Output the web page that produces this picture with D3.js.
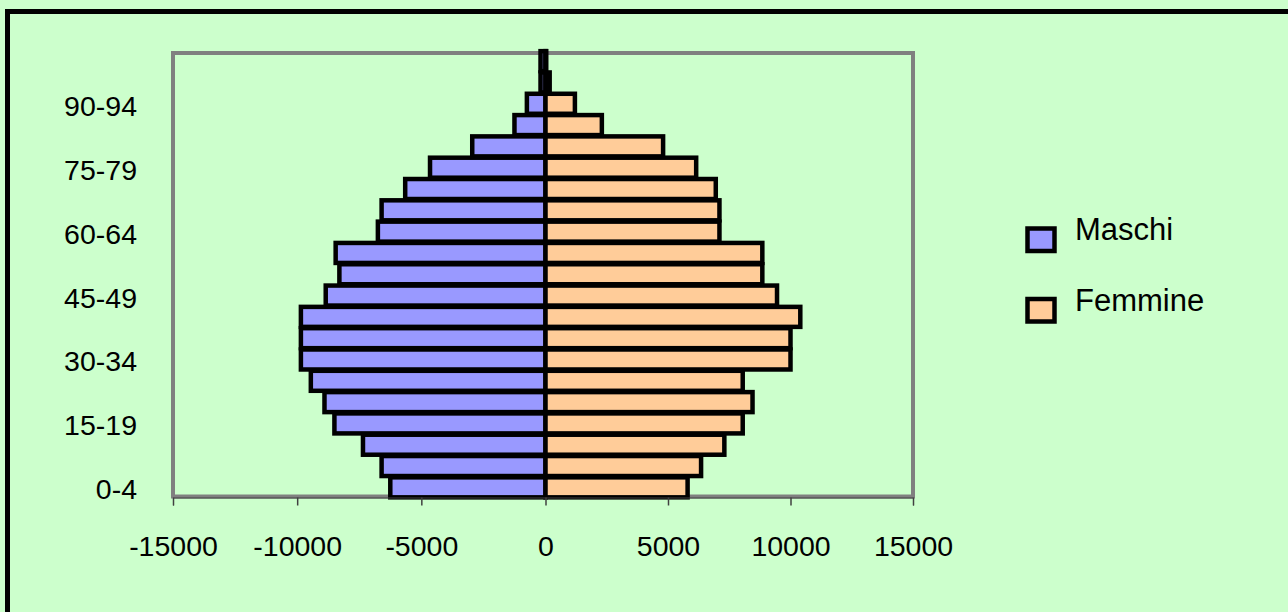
<!DOCTYPE html>
<html>
<head>
<meta charset="utf-8">
<script src="https://cdn.jsdelivr.net/npm/d3@7"></script>
<style>
  html, body { margin: 0; padding: 0; background: #CCFFCC; overflow: hidden; }
  svg { display: block; }
  text { font-family: Arial, "Liberation Sans", sans-serif; fill: #000; }
</style>
</head>
<body>
<svg id="chart" width="1288" height="612"></svg>
<script>
const categories = ["0-4","5-9","10-14","15-19","20-24","25-29","30-34","35-39","40-44","45-49",
                    "50-54","55-59","60-64","65-69","70-74","75-79","80-84","85-89","90-94","95-99","100+"];
const maschi  = [6250,6600,7350,8500,8900,9450,9850,9850,9850,8850,8300,8450,6750,6600,5650,4650,2950,1250,750,200,200];
const femmine = [5800,6350,7300,8050,8450,8050,10000,10000,10400,9450,8850,8850,7100,7100,6950,6150,4800,2300,1200,170,30];
const xTicks = [-15000,-10000,-5000,0,5000,10000,15000];
const yTickLabels = ["0-4","15-19","30-34","45-49","60-64","75-79","90-94"];
const seriesNames = ["Maschi","Femmine"];
const seriesColors = ["#9999FF","#FFCC99"];

const svg = d3.select("#chart");

// outer border
svg.append("rect").attr("x",7.5).attr("y",11.5).attr("width",1300).attr("height",620)
  .attr("fill","#CCFFCC").attr("stroke","#000").attr("stroke-width",5);

const plot = {left:173, right:913, top:53, bottom:496.5};

const x = d3.scaleLinear().domain([-15000,0,15000]).range([plot.left,545.5,plot.right]);
const y = d3.scaleBand().domain(categories).range([498, 50.5]).paddingInner(0);

// plot frame
svg.append("rect").attr("x",plot.left).attr("y",plot.top)
  .attr("width",plot.right-plot.left).attr("height",plot.bottom-plot.top)
  .attr("fill","none").attr("stroke","#808080").attr("stroke-width",4);

const bh = 20;
const rows = categories.map((c,i)=>({c, m:maschi[i], f:femmine[i]}));

const g = svg.append("g");
rows.forEach(d=>{
  const cy = y(d.c) + y.bandwidth()/2;
  g.append("rect").attr("x",x(-d.m)).attr("y",cy-bh/2)
    .attr("width",x(0)-x(-d.m)).attr("height",bh)
    .attr("fill",seriesColors[0]).attr("stroke","#000").attr("stroke-width",4.5);
  g.append("rect").attr("x",x(0)).attr("y",cy-bh/2)
    .attr("width",x(d.f)-x(0)).attr("height",bh)
    .attr("fill",seriesColors[1]).attr("stroke","#000").attr("stroke-width",4.5);
});

// x axis
const xAxis = d3.axisBottom(x).tickValues(xTicks).tickSize(8).tickPadding(30).tickFormat(d=>String(d));
const ax = svg.append("g").attr("transform",`translate(0,${plot.bottom+1})`).call(xAxis);
ax.select(".domain").attr("stroke","#404040").attr("stroke-width",1);
ax.selectAll(".tick line").attr("stroke","#404040").attr("stroke-width",1.5);
ax.selectAll(".tick text").style("font-size","28.5px").attr("fill","#000")
  .attr("font-family","Arial, 'Liberation Sans', sans-serif");

// y labels
const ay = d3.axisLeft(y).tickValues(yTickLabels).tickSize(0).tickPadding(36);
const ayg = svg.append("g").attr("transform",`translate(${plot.left},0)`).call(ay);
ayg.select(".domain").remove();
ayg.selectAll(".tick text").style("font-size","28.5px").attr("fill","#000")
  .attr("dy","0.42em").attr("font-family","Arial, 'Liberation Sans', sans-serif");

// legend
const leg = svg.append("g");
seriesNames.forEach((n,i)=>{
  const yy = 228.5 + i*70.5;
  leg.append("rect").attr("x",1027.5).attr("y",yy).attr("width",27).attr("height",22.5)
    .attr("fill",seriesColors[i]).attr("stroke","#000").attr("stroke-width",4.5);
  leg.append("text").attr("x",1075).attr("y",yy+11.5).style("font-size","31px").text(n);
});
</script>
</body>
</html>
